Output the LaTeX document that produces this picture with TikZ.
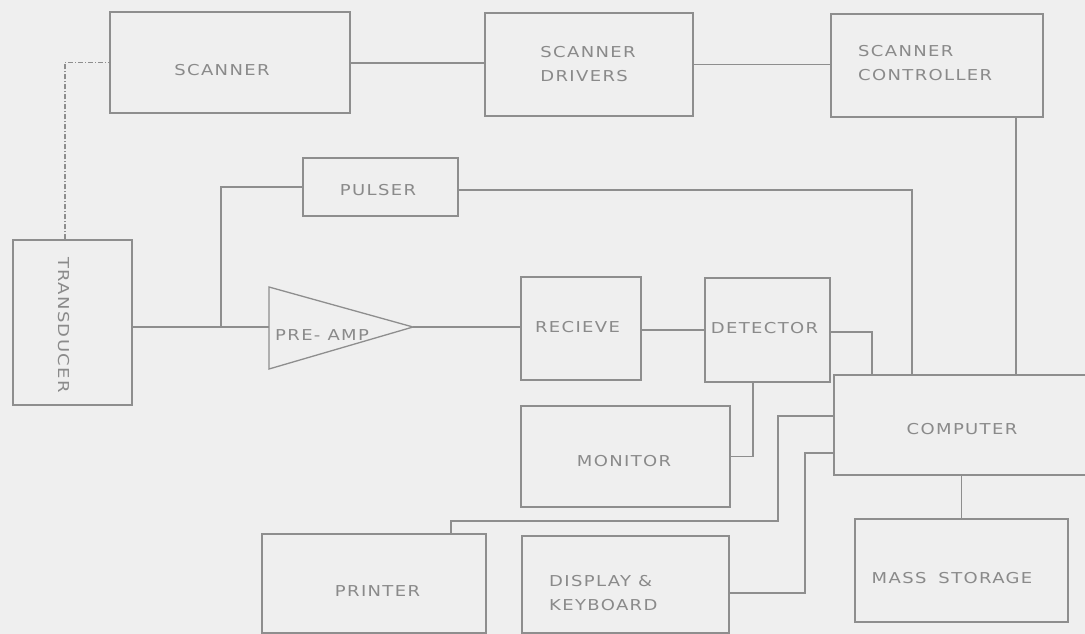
\documentclass[tikz,border=0pt]{standalone}
\usepackage{fontspec}
\setmainfont{DejaVu Sans}[FakeStretch=1.2, LetterSpace=9]
\usetikzlibrary{calc}
\definecolor{bg}{HTML}{EFEFEF}
\definecolor{ln}{HTML}{8E8E8E}
\definecolor{tx}{HTML}{8A8A8A}
\begin{document}
\begin{tikzpicture}[x=1pt,y=-1pt,
  blk/.style={draw=ln, line width=1.2pt, rectangle, inner sep=0pt},
  txt/.style={text=tx, inner sep=0pt, font=\fontsize{15}{24}\selectfont},
  wire/.style={draw=ln, line width=1.3pt},
  dashwire/.style={draw=ln, line width=1.1pt, dash pattern=on 5pt off 2pt on 1pt off 2pt}]
\fill[bg] (0,0) rectangle (1085,634);
\useasboundingbox (0,0) rectangle (1085,634);
\clip (0,0) rectangle (1085,634);

% blocks
\node[blk, minimum width=240pt, minimum height=101pt] (scanner) at (230,62.5) {};
\node[blk, minimum width=208pt, minimum height=103pt] (drivers) at (589,64.5) {};
\node[blk, minimum width=212pt, minimum height=103pt] (controller) at (937,65.5) {};
\node[blk, minimum width=155pt, minimum height=58pt] (pulser) at (380.5,187) {};
\node[blk, minimum width=119pt, minimum height=165pt] (transducer) at (72.5,322.5) {};
\node[blk, minimum width=120pt, minimum height=103pt] (receive) at (581,328.5) {};
\node[blk, minimum width=125pt, minimum height=104pt] (detector) at (767.5,330) {};
\node[blk, minimum width=209pt, minimum height=101pt] (monitor) at (625.5,456.5) {};
\node[blk, minimum width=261pt, minimum height=100pt] (computer) at (964.5,425) {};
\node[blk, minimum width=213pt, minimum height=103pt] (storage) at (961.5,570.5) {};
\node[blk, minimum width=224pt, minimum height=99pt] (printer) at (374,583.5) {};
\node[blk, minimum width=207pt, minimum height=97pt] (dk) at (625.5,584.5) {};

% pre-amp triangle
\coordinate (preTop) at (269,287);
\coordinate (preBot) at (269,369);
\coordinate (preIn) at (269,327);
\coordinate (preTip) at (413,327);
\draw[wire, line join=miter] (preTop) -- (preTip) -- (preBot) -- cycle;

% texts
\node[txt] (scannerT) at (222,70.5) {SCANNER};
\node[txt, align=left] (driversT) at (588,64) {SCANNER\\DRIVERS};
\node[txt, align=left, anchor=west] (controllerT) at (858,63) {SCANNER\\CONTROLLER};
\node[txt] (pulserT) at (378,190) {PULSER};
\node[txt, anchor=west] (preT) at (275,335.5) {PRE- AMP};
\node[txt] (receiveT) at (577.5,327.5) {RECIEVE};
\node[txt] (detectorT) at (764.5,328) {DETECTOR};
\node[txt] (monitorT) at (624,461.5) {MONITOR};
\node[txt] (computerT) at (962,429) {COMPUTER};
\node[txt] (storageT) at (952,578.5) {MASS\hspace{12pt}STORAGE};
\node[txt] (printerT) at (377.5,591) {PRINTER};
\node[txt, align=left, anchor=west] (dkT) at (549,593.5) {DISPLAY \&\\KEYBOARD};
\node[txt, rotate=-90] (transducerT) at (63.5,325) {TRANSDUCER};

% helper coordinates
\coordinate (cx) at (1016,0);
\coordinate (px) at (912,0);
\coordinate (dx) at (872,0);
\coordinate (junction) at (221,327);
\coordinate (pa) at (451,521);
\coordinate (pb) at (778,416);
\coordinate (kb) at (805,453);

% connectors
\draw[dashwire] ([xshift=-7.5pt]transducer.north) |- (scanner.west);
\draw[wire] ([yshift=-0.5pt]scanner.east) -- ([yshift=-0.5pt]scanner.east -| drivers.west);
\draw[wire] (drivers.east) -- (drivers.east -| controller.west);
\draw[wire] (controller.south -| cx) -- (computer.north -| cx);
\draw[wire] ([yshift=-3pt]pulser.east) -| (computer.north -| px);
\draw[wire] (pulser.west) -| (junction);
\draw[wire] (transducer.east |- preIn) -- (preIn);
\draw[wire] (preTip) -- (preTip -| receive.west);
\draw[wire] ([yshift=-1.5pt]receive.east) -- ([yshift=-1.5pt]receive.east -| detector.west);
\draw[wire] ([yshift=-2pt]detector.east) -| (computer.north -| dx);
\draw[wire] ([xshift=-14.5pt]detector.south) |- (monitor.east);
\draw[wire] (printer.north -| pa) -- (pa) -| (pb) -- (computer.west |- pb);
\draw[wire] ([yshift=-8.5pt]dk.east) -| (kb) -- (computer.west |- kb);
\draw[wire] (computer.south -| storage.north) -- (storage.north);
\end{tikzpicture}
\end{document}
